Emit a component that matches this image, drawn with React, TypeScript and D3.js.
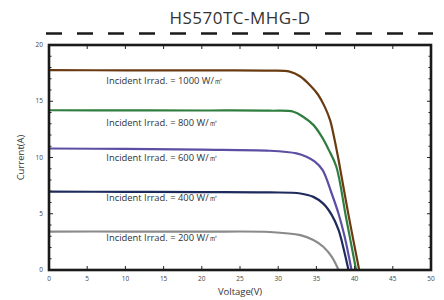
import React from 'react';
import * as d3 from 'd3';

// --- Chart data ---
const seriesNames = ['1000', '800', '600', '400', '200'];
const seriesColors = ['#6a3b12', '#2f7d3f', '#5b4ea3', '#1e2a5c', '#8a8a8a'];
const labelCurrents = [16.5, 12.8, 9.7, 6.1, 2.6];

const volt1000 = [0, 10, 20, 28.9, 31.5, 32.9, 34.2, 35.2, 36.1, 36.8, 37.3, 37.9, 39.2, 40.6];
const curr1000 = [17.76, 17.75, 17.74, 17.72, 17.63, 17.2, 16.4, 15.6, 14.5, 13.3, 11.85, 9.8, 4.9, 0];
const volt800 = [0, 10, 20, 28.9, 32.0, 33.3, 34.6, 35.7, 36.6, 37.6, 38.9, 40.2];
const curr800 = [14.2, 14.19, 14.18, 14.16, 14.07, 13.6, 12.9, 11.85, 10.7, 9.2, 4.6, 0];
const volt600 = [0, 10, 20, 28.9, 32.4, 33.7, 34.8, 35.8, 37.0, 37.9, 38.7, 39.6];
const curr600 = [10.8, 10.76, 10.7, 10.6, 10.37, 10.07, 9.63, 8.9, 6.8, 5.0, 2.96, 0];
const volt400 = [0, 10, 20, 28.9, 32.9, 34.6, 35.9, 37.0, 37.9, 38.6, 39.2];
const curr400 = [6.96, 6.95, 6.93, 6.9, 6.8, 6.5, 5.9, 4.9, 3.56, 1.78, 0];
const volt200 = [0, 10, 20, 28.9, 32.9, 34.6, 35.9, 37.0, 37.9];
const curr200 = [3.42, 3.42, 3.41, 3.38, 3.1, 2.67, 2.07, 1.18, 0];

const voltSets = [volt1000, volt800, volt600, volt400, volt200];
const currSets = [curr1000, curr800, curr600, curr400, curr200];

const xTicks = [0, 5, 10, 15, 20, 25, 30, 35, 40, 45, 50];
const yTicks = [0, 5, 10, 15, 20];
const yMinorTicks = d3.range(0, 21, 1);

const W = 444, H = 300;
const margin = { left: 49, right: 13, top: 45, bottom: 30 };

export default function App() {
  const x = d3.scaleLinear().domain([0, 50]).range([margin.left, W - margin.right]);
  const y = d3.scaleLinear().domain([0, 20]).range([H - margin.bottom, margin.top]);
  const line = d3.line<[number, number]>()
    .x(d => x(d[0]))
    .y(d => y(d[1]))
    .curve(d3.curveCatmullRom.alpha(0.5));

  const x0 = x(0), x1 = x(50), y0 = y(0), y1 = y(20);
  const tickFont = { fontSize: 6.5, fill: '#444', fontFamily: 'Open Sans, sans-serif' };

  return (
    <svg width={W} height={H} style={{ position: 'absolute', left: 0, top: 0, background: '#fff' }}>
      <text x={240} y={24} textAnchor="middle" fontSize={17} fill="#333"
        fontFamily="Open Sans, sans-serif" letterSpacing={0.5}>HS570TC-MHG-D</text>
      <line x1={46} x2={433} y1={33.5} y2={33.5} stroke="#1a1a1a" strokeWidth={2.6} strokeDasharray="16 15" />

      {/* curves */}
      {seriesNames.map((name, i) => {
        const pts: [number, number][] = voltSets[i].map((v, j) => [v, currSets[i][j]]);
        return <path key={name} d={line(pts) || ''} fill="none" stroke={seriesColors[i]} strokeWidth={2.2} />;
      })}

      {/* labels */}
      {seriesNames.map((name, i) => (
        <text key={'l' + name} x={x(7.5)} y={y(labelCurrents[i])} fontSize={9.4} fill="#333"
          fontFamily="Open Sans, sans-serif">{`Incident Irrad. = ${name} W/㎡`}</text>
      ))}

      {/* ticks */}
      {xTicks.slice(1, -1).map(t => (
        <g key={'xt' + t}>
          <line x1={x(t)} x2={x(t)} y1={y0} y2={y0 - 4} stroke="#222" strokeWidth={1} />
          <line x1={x(t)} x2={x(t)} y1={y1} y2={y1 + 4} stroke="#222" strokeWidth={1} />
        </g>
      ))}
      {yMinorTicks.slice(1, -1).map(t => {
        const len = t % 5 === 0 ? 4 : 2.5;
        return (
          <g key={'yt' + t}>
            <line x1={x0} x2={x0 + len} y1={y(t)} y2={y(t)} stroke="#222" strokeWidth={1} />
            <line x1={x1} x2={x1 - len} y1={y(t)} y2={y(t)} stroke="#222" strokeWidth={1} />
          </g>
        );
      })}
      <rect x={x0} y={y1} width={x1 - x0} height={y0 - y1} fill="none" stroke="#1a1a1a" strokeWidth={2.6} />

      {xTicks.map(t => (
        <text key={'xl' + t} x={x(t)} y={y0 + 11} textAnchor="middle" {...tickFont}>{t}</text>
      ))}
      {yTicks.map(t => (
        <text key={'yl' + t} x={x0 - 6} y={y(t) + 2} textAnchor="end" {...tickFont}>{t}</text>
      ))}

      <text x={240} y={295} textAnchor="middle" fontSize={9.5} fill="#333" fontFamily="Open Sans, sans-serif">Voltage(V)</text>
      <text transform={`translate(24,${(y0 + y1) / 2}) rotate(-90)`} textAnchor="middle" fontSize={9.5} fill="#333"
        fontFamily="Open Sans, sans-serif">Current(A)</text>
    </svg>
  );
}
